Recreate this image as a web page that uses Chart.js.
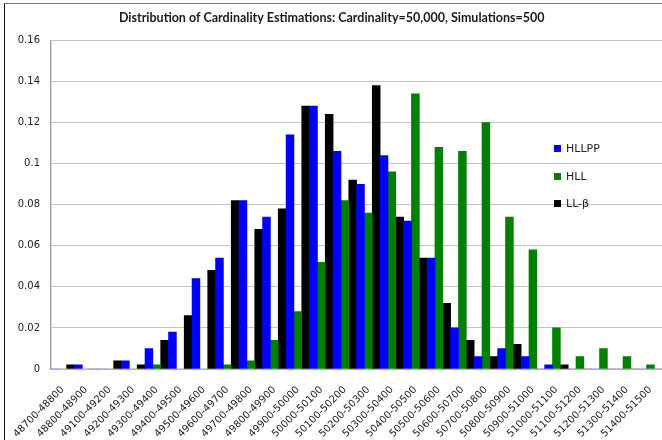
<!DOCTYPE html>
<html lang="en">
  <head>
    <meta charset="UTF-8" />
    <title>Distribution of Cardinality Estimations</title>
    <script src="https://cdn.jsdelivr.net/npm/chart.js"></script>
    <style>
      html,
      body {
        margin: 0;
        padding: 0;
        background: #ffffff;
        overflow: hidden;
        width: 662px;
        height: 440px;
      }
      #frame {
        position: absolute;
        left: 4px;
        top: 3px;
        width: 700px;
        height: 500px;
        border-left: 1.5px solid #111;
        border-top: 1px solid #777;
      }
      #wrap {
        position: absolute;
        left: 0;
        top: 0;
        width: 666px;
        height: 440px;
      }
      #legend {
        position: absolute;
        left: 554px;
        top: 140px;
        font-family: "DejaVu Sans", Verdana, sans-serif;
        font-size: 11px;
        color: #222;
      }
      #legend div {
        height: 27.5px;
        line-height: 18px;
        white-space: nowrap;
      }
      #legend span.box {
        display: inline-block;
        width: 7px;
        height: 7px;
        margin-right: 5px;
        vertical-align: 0px;
      }
    </style>
  </head>
  <body>
    <div id="frame"></div>
    <div id="wrap">
      <canvas id="barChart" width="666" height="440"></canvas>
    </div>
    <div id="legend"></div>

    <script>
      // categories (bins of the estimate)
      const bins = [
        "48700-48800", "48800-48900", "49100-49200", "49200-49300",
        "49300-49400", "49400-49500", "49500-49600", "49600-49700",
        "49700-49800", "49800-49900", "49900-50000", "50000-50100",
        "50100-50200", "50200-50300", "50300-50400", "50400-50500",
        "50500-50600", "50600-50700", "50700-50800", "50800-50900",
        "50900-51000", "51000-51100", "51100-51200", "51200-51300",
        "51300-51400", "51400-51500",
      ];

      // share of simulations per bin
      const hllpp = [
        0, 0.002, 0, 0.004, 0.01, 0.018, 0.044, 0.054, 0.082, 0.074, 0.114,
        0.128, 0.106, 0.09, 0.104, 0.072, 0.054, 0.02, 0.006, 0.01, 0.006,
        0.002, 0, 0, 0, 0,
      ];
      const hll = [
        0, 0, 0, 0, 0.002, 0, 0, 0.002, 0.004, 0.014, 0.028, 0.052, 0.082,
        0.076, 0.096, 0.134, 0.108, 0.106, 0.12, 0.074, 0.058, 0.02, 0.006,
        0.01, 0.006, 0.002,
      ];
      const llBeta = [
        0.002, 0, 0.004, 0.002, 0.014, 0.026, 0.048, 0.082, 0.068, 0.078,
        0.128, 0.124, 0.092, 0.138, 0.074, 0.054, 0.032, 0.014, 0.006, 0.012,
        0, 0.002, 0, 0, 0, 0,
      ];

      const seriesNames = ["HLLPP", "HLL", "LL-\u03b2"];
      const seriesColors = ["#0000ff", "#008000", "#000000"];

      document.addEventListener("DOMContentLoaded", function () {
        const ctx = document.getElementById("barChart").getContext("2d");
        const values = [hllpp, hll, llBeta];

        const datasets = seriesNames.map((name, i) => ({
          label: name,
          data: values[i],
          backgroundColor: seriesColors[i],
          borderWidth: 0,
          categoryPercentage: 1.0,
          barPercentage: 1.0,
        }));

        const config = {
          type: "bar",
          data: { labels: bins, datasets: datasets },
          options: {
            responsive: false,
            animation: false,
            layout: { padding: { left: 0, right: 2.5, top: 0, bottom: 0 } },
            scales: {
              x: {
                grid: { display: false },
                border: { color: "#b0b0b0", width: 1 },
                ticks: {
                  autoSkip: false,
                  minRotation: 45,
                  maxRotation: 45,
                  padding: 7,
                  color: "#222",
                  font: { family: "'DejaVu Sans', Verdana, sans-serif", size: 10 },
                },
                afterFit: (scale) => {
                  scale.height = 71;
                },
              },
              y: {
                min: 0,
                max: 0.16,
                ticks: {
                  stepSize: 0.02,
                  padding: 11,
                  color: "#222",
                  font: { family: "'DejaVu Sans', Verdana, sans-serif", size: 10 },
                  callback: (v) => String(Number(v.toFixed(2))),
                },
                grid: { color: "#c4c4c4", lineWidth: 1, drawTicks: false },
                border: { color: "#a8a8a8", width: 1.5 },
                afterFit: (scale) => {
                  scale.width = 51;
                },
              },
            },
            plugins: {
              legend: { display: false },
              tooltip: { enabled: false },
              title: {
                display: true,
                text: "Distribution of Cardinality Estimations: Cardinality=50,000, Simulations=500",
                color: "#1a1a1a",
                font: { family: "Lato, sans-serif", size: 12.5, weight: "bold" },
                padding: { top: 10.5, bottom: 15 },
              },
            },
          },
        };

        const chart = new Chart(ctx, config);

        // legend as text, built from the datasets
        const legend = document.getElementById("legend");
        chart.data.datasets.forEach((ds) => {
          const row = document.createElement("div");
          const box = document.createElement("span");
          box.className = "box";
          box.style.background = ds.backgroundColor;
          row.appendChild(box);
          row.appendChild(document.createTextNode(ds.label));
          legend.appendChild(row);
        });
      });
    </script>
  </body>
</html>
